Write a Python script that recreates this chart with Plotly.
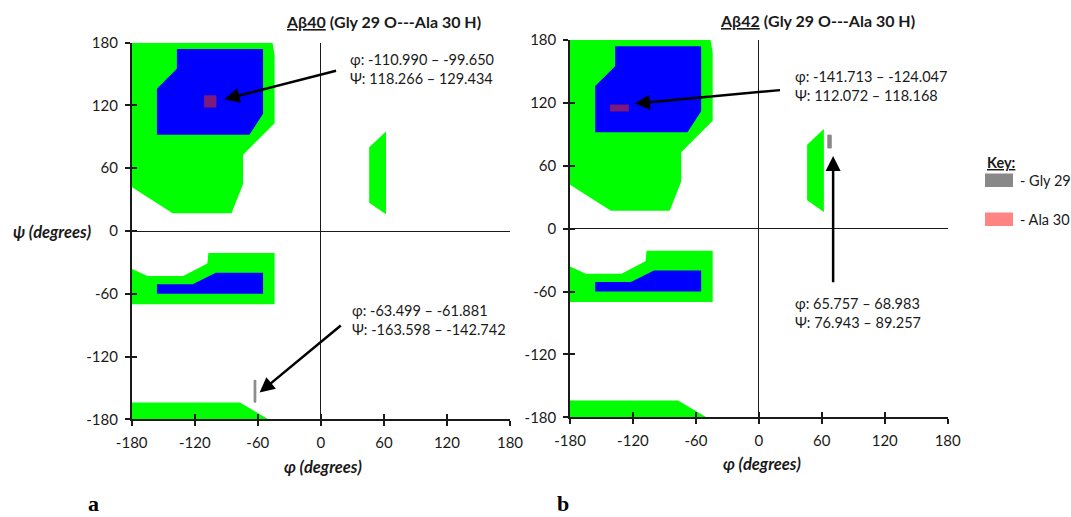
import plotly.graph_objects as go

# ---------------- data ----------------
TICKS = [-180, -120, -60, 0, 60, 120, 180]
AX_RANGE = [-180, 180]

# Ramachandran allowed (green) and core (blue) regions, phi/psi in degrees
GREEN_UPPER_PHI = [-180, -46, -44, -44, -74, -74, -85, -141, -180]
GREEN_UPPER_PSI = [180, 180, 168, 103, 73, 45, 17, 17, 42]
BLUE_UPPER_PHI = [-137, -55, -55, -68, -156, -156, -137]
BLUE_UPPER_PSI = [174, 174, 112, 92, 92, 136, 155]
GREEN_LH_PHI = [46, 62, 62, 46]
GREEN_LH_PSI = [80, 95, 16, 27]
GREEN_MID_PHI = [-180, -165, -131, -108, -107, -44, -44, -180]
GREEN_MID_PSI = [-36, -43, -43, -31, -21, -21, -70, -70]
BLUE_MID_PHI = [-156, -122, -100, -55, -55, -156]
BLUE_MID_PSI = [-51, -51, -40, -40, -60, -60]
GREEN_LOW_PHI = [-180, -77, -50, -180]
GREEN_LOW_PSI = [-164, -164, -180, -180]

# residue phi/psi ranges [min, max]
A40_ALA30_PHI = [-110.990, -99.650]
A40_ALA30_PSI = [118.266, 129.434]
A40_GLY29_PHI = [-63.499, -61.881]
A40_GLY29_PSI = [-163.598, -142.742]
A42_ALA30_PHI = [-141.713, -124.047]
A42_ALA30_PSI = [112.072, 118.168]
A42_GLY29_PHI = [65.757, 68.983]
A42_GLY29_PSI = [76.943, 89.257]

TITLES = ["<u>Aβ40</u> (Gly 29 O---Ala 30 H)", "<u>Aβ42</u> (Gly 29 O---Ala 30 H)"]

GREEN = "#00ff00"
BLUE = "#0000ff"
GRAY = "#888888"
PINK = "#ff8585"
OVERLAP = "#7d1a7d"
INK = "#1a1a1a"
FONT = "Lato"

W, H = 1071, 517


def rect(phi, psi):
    return ([phi[0], phi[1], phi[1], phi[0], phi[0]],
            [psi[0], psi[0], psi[1], psi[1], psi[0]])


fig = go.Figure()

regions = [
    (GREEN_UPPER_PHI, GREEN_UPPER_PSI, GREEN),
    (GREEN_LH_PHI, GREEN_LH_PSI, GREEN),
    (GREEN_MID_PHI, GREEN_MID_PSI, GREEN),
    (GREEN_LOW_PHI, GREEN_LOW_PSI, GREEN),
    (BLUE_UPPER_PHI, BLUE_UPPER_PSI, BLUE),
    (BLUE_MID_PHI, BLUE_MID_PSI, BLUE),
]

panels = [
    dict(xa="x", ya="y", ala=(A40_ALA30_PHI, A40_ALA30_PSI), gly=(A40_GLY29_PHI, A40_GLY29_PSI)),
    dict(xa="x2", ya="y2", ala=(A42_ALA30_PHI, A42_ALA30_PSI), gly=(A42_GLY29_PHI, A42_GLY29_PSI)),
]

for p in panels:
    for xs, ys, col in regions:
        fig.add_trace(go.Scatter(x=xs, y=ys, fill="toself", fillcolor=col, mode="lines",
                                 line=dict(width=0, color=col), xaxis=p["xa"], yaxis=p["ya"],
                                 hoverinfo="skip", showlegend=False))
    ax, ay = rect(*p["ala"])
    fig.add_trace(go.Scatter(x=ax, y=ay, fill="toself", fillcolor=OVERLAP, mode="lines",
                             line=dict(width=0.5, color=OVERLAP), xaxis=p["xa"], yaxis=p["ya"],
                             showlegend=False, name="Ala 30"))
    gx, gy = rect(*p["gly"])
    fig.add_trace(go.Scatter(x=gx, y=gy, fill="toself", fillcolor=GRAY, mode="lines",
                             line=dict(width=1, color=GRAY), xaxis=p["xa"], yaxis=p["ya"],
                             showlegend=False, name="Gly 29"))

# empty traces for overlay axes (inner half of the crossing ticks)
fig.add_trace(go.Scatter(x=[None], y=[None], xaxis="x3", yaxis="y3", showlegend=False, hoverinfo="skip"))
fig.add_trace(go.Scatter(x=[None], y=[None], xaxis="x4", yaxis="y4", showlegend=False, hoverinfo="skip"))

DOM = [
    dict(x=[131.7 / W, 510 / W], y=[(H - 419.3) / H, (H - 42.7) / H]),
    dict(x=[570 / W, 947.7 / W], y=[(H - 417.3) / H, (H - 40) / H]),
]

base = dict(range=AX_RANGE, tickvals=TICKS, ticktext=[str(t) for t in TICKS],
            showgrid=False, showline=True, linecolor=INK, linewidth=1.5,
            ticks="outside", ticklen=5, tickwidth=1.5, tickcolor=INK,
            zeroline=True, zerolinecolor=INK, zerolinewidth=1,
            tickfont=dict(family=FONT, size=15, color=INK), fixedrange=True,
            ticklabelstandoff=4, automargin=False)
inner = dict(range=AX_RANGE, tickvals=TICKS, showticklabels=False, showgrid=False,
             showline=False, zeroline=False, ticks="inside", ticklen=5, tickwidth=1.5,
             tickcolor=INK, fixedrange=True, automargin=False)

fig.update_layout(
    width=W, height=H, autosize=False,
    margin=dict(l=0, r=0, t=0, b=0, pad=0, autoexpand=False),
    paper_bgcolor="white", plot_bgcolor="white",
    xaxis=dict(base, domain=DOM[0]["x"], anchor="y"),
    yaxis=dict(base, domain=DOM[0]["y"], anchor="x"),
    xaxis2=dict(base, domain=DOM[1]["x"], anchor="y2"),
    yaxis2=dict(base, domain=DOM[1]["y"], anchor="x2"),
    xaxis3=dict(inner, overlaying="x", anchor="y3"),
    yaxis3=dict(inner, overlaying="y", anchor="x3"),
    xaxis4=dict(inner, overlaying="x2", anchor="y4"),
    yaxis4=dict(inner, overlaying="y2", anchor="x4"),
    showlegend=False,
)

ann = []
txt_font = dict(family=FONT, size=14.5, color=INK)


def paper_text(text, px, py, size, family=FONT, xanchor="center", color=INK):
    return dict(text=text, x=px / W, y=1 - py / H, xref="paper", yref="paper",
                xanchor=xanchor, yanchor="middle", showarrow=False,
                font=dict(family=family, size=size, color=color))


# titles
ann.append(paper_text("<b>" + TITLES[0] + "</b>", 383, 21, 16))
ann.append(paper_text("<b>" + TITLES[1] + "</b>", 817, 20.5, 16))
# axis titles
ann.append(paper_text("<b><i>ψ (degrees)</i></b>", 52, 232, 16.5))
ann.append(paper_text("<b><i>φ (degrees)</i></b>", 323, 466.5, 16.5))
ann.append(paper_text("<b><i>φ (degrees)</i></b>", 762, 463.5, 16.5))
# panel letters
ann.append(paper_text("<b>a</b>", 93, 503, 22, family="Liberation Serif", color="black"))
ann.append(paper_text("<b>b</b>", 563, 503, 22, family="Liberation Serif", color="black"))


def rng_text(phi, psi):
    return (f"φ: {phi[0]:.3f} – {phi[1]:.3f}<br>Ψ: {psi[0]:.3f} – {psi[1]:.3f}")


labels = [
    ("x", "y", rng_text(A40_ALA30_PHI, A40_ALA30_PSI), 25.7, 154.6, (15.9, 153.6), (-91.6, 125.9)),
    ("x", "y", rng_text(A40_GLY29_PHI, A40_GLY29_PSI), 27.3, -85.4, (20.4, -89.2), (-58.3, -154.5)),
    ("x2", "y2", rng_text(A42_ALA30_PHI, A42_ALA30_PSI), 32.7, 136.1, (21.6, 132.3), (-118.2, 119.3)),
    ("x2", "y2", rng_text(A42_GLY29_PHI, A42_GLY29_PSI), 32.7, -80.2, (70.8, -52.5), (70.8, 69.3)),
]
for xr, yr, t, tx, ty, tail, head in labels:
    ann.append(dict(text=t, x=tx, y=ty, xref=xr, yref=yr, xanchor="left", yanchor="middle",
                    align="left", showarrow=False, font=txt_font))
    ann.append(dict(text="", x=head[0], y=head[1], ax=tail[0], ay=tail[1], xref=xr, yref=yr,
                    axref=xr, ayref=yr, showarrow=True, arrowhead=2, arrowsize=1.2,
                    arrowwidth=2.5, arrowcolor="black"))

# key
ann.append(paper_text("<b><u>Key:</u></b>", 985, 162, 14.5, xanchor="left"))
ann.append(paper_text("- Gly 29", 1018, 180, 14.5, xanchor="left"))
ann.append(paper_text("- Ala 30", 1018, 219.5, 14.5, xanchor="left"))
shapes = [
    dict(type="rect", xref="paper", yref="paper", x0=985 / W, x1=1013 / W, y0=1 - 187 / H, y1=1 - 173.5 / H,
         fillcolor=GRAY, line=dict(width=0)),
    dict(type="rect", xref="paper", yref="paper", x0=985 / W, x1=1013 / W, y0=1 - 226 / H, y1=1 - 212.5 / H,
         fillcolor=PINK, line=dict(width=0)),
]

fig.update_layout(annotations=ann, shapes=shapes)
fig.write_html("out.html")
